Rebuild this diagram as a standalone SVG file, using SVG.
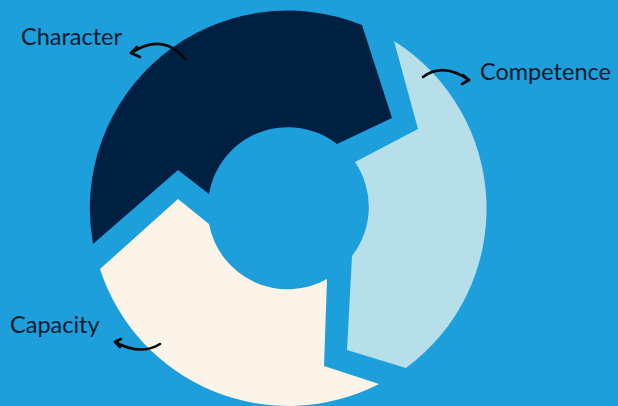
<svg xmlns="http://www.w3.org/2000/svg" width="618" height="406" viewBox="0 0 618 406">
<style>
.lbl{font-family:Lato,"Open Sans","Liberation Sans",sans-serif;font-size:23.5px;fill:#0b1a2e}
.arr{fill:none;stroke:#0a0a0a;stroke-width:2.6;stroke-linecap:round;stroke-linejoin:round}
</style>
<rect width="618" height="406" fill="#1c9fdb"/>
<g id="character">
<path fill="#002042" d="M93,244 A198,198 0 0 1 362,25 L392,118 L337,144 A80,80 0 0 0 209,194 L178,170 Z"/>
</g>
<g id="competence">
<path fill="#b6dfea" d="M394,41 A198,198 0 0 1 406,368 L347,350 L352,256 A80,80 0 0 0 355,162 L418,129 Z"/>
</g>
<g id="capacity">
<path fill="#fcf4e8" d="M379,384 A198,198 0 0 1 100,269 L178,199 L209,224 A80,80 0 0 0 327,279 L324,366 Z"/>
</g>
<g id="connectors">
<path class="arr" d="M185,59 Q163,32 131,53"/>
<path class="arr" d="M137,47 L131,53 L140,57"/>
<path class="arr" d="M423,77 Q443,62 469,80"/>
<path class="arr" d="M463,75 L469,80 L462,84"/>
<path class="arr" d="M160,344 Q141,356 115,342"/>
<path class="arr" d="M121,339 L115,342 L120,347"/>
</g>
<g id="labels">
<text class="lbl" x="21" y="45">Character</text>
<text class="lbl" x="480" y="80">Competence</text>
<text class="lbl" x="10" y="333">Capacity</text>
</g>
</svg>
